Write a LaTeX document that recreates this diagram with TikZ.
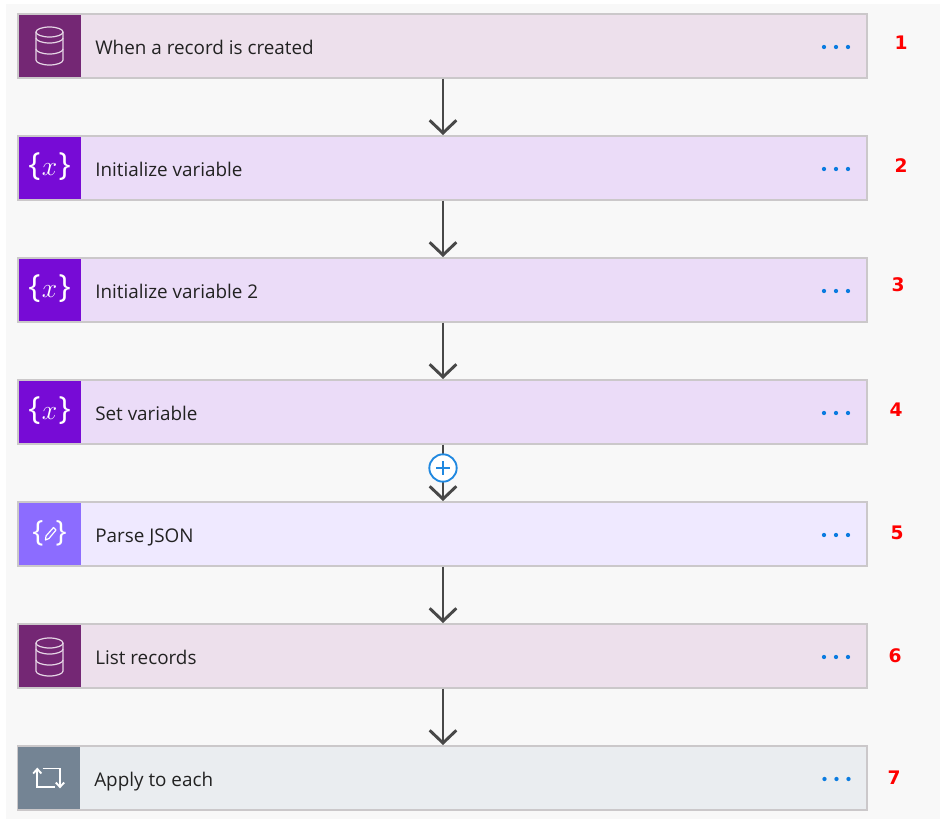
\documentclass[tikz,border=0pt]{standalone}
\usepackage{fontspec}
\setmainfont{Open Sans}
\newfontfamily\numfont[Scale=1]{DejaVu Sans}
\usetikzlibrary{arrows.meta}
\definecolor{bgc}{HTML}{F8F8F8}
\definecolor{edgec}{HTML}{CBC8CA}
\definecolor{dbdark}{HTML}{742774}
\definecolor{dblight}{HTML}{EDE0EC}
\definecolor{vardark}{HTML}{770BD6}
\definecolor{varlight}{HTML}{EBDCF8}
\definecolor{jsondark}{HTML}{8C6CFF}
\definecolor{jsonlight}{HTML}{EFE9FF}
\definecolor{loopdark}{HTML}{748494}
\definecolor{looplight}{HTML}{EAEDF0}
\definecolor{arrowc}{HTML}{484848}
\definecolor{dotc}{HTML}{0A7BE0}
\definecolor{plusc}{HTML}{2088E0}
\definecolor{inkc}{HTML}{222222}
\definecolor{dbline}{HTML}{E6D6E6}
\tikzset{
  card/.style={draw=edgec,line width=1.5pt,minimum width=636.75pt,minimum height=47.7pt,inner sep=0pt,anchor=north west},
  iconbox/.style={minimum width=46.7pt,minimum height=47pt,inner sep=0pt,anchor=north west},
  title/.style={inner sep=0pt,anchor=base west,text=inkc,font=\fontsize{14.15}{17}\selectfont},
  num/.style={inner sep=0pt,text=red,font=\numfont\bfseries\fontsize{14}{16}\selectfont},
  flow/.style={draw=arrowc,line width=2.2pt,-{Straight Barb[length=9.5pt,width=20pt,line width=2.2pt]}},
  glyph/.style={inner sep=0pt,text=white},
  dot/.style={circle,fill=dotc,minimum size=3.2pt,inner sep=0pt},
  dbstroke/.style={draw=dbline,line width=.9pt},
  loopstroke/.style={draw=white,line width=1.4pt},
  plusnode/.style={circle,draw=plusc,fill=white,line width=1.4pt,minimum size=20.5pt,inner sep=0pt}
}
\newcommand{\threedots}[3]{%
  \node[dot] (#1a) at (#2,#3) {};
  \node[dot] (#1b) at (#2+12,#3) {};
  \node[dot] (#1c) at (#2+24,#3) {};
}
\newcommand{\dbglyph}[1]{%
  \begin{scope}[shift={(49.5,#1)}]
    \draw[dbstroke] (0,-14) ellipse [x radius=13.5,y radius=5];
    \draw[dbstroke] (-13.5,-14) -- (-13.5,14) arc [start angle=180,end angle=0,x radius=13.5,y radius=5] -- (13.5,-14);
    \draw[dbstroke] (-13.5,-8) arc [start angle=180,end angle=0,x radius=13.5,y radius=5];
    \draw[dbstroke] (-13.5,3) arc [start angle=180,end angle=0,x radius=13.5,y radius=5];
  \end{scope}
}
\newcommand{\xglyph}[2]{%
  \node[glyph,font=\fontsize{24}{28}\selectfont] (#1) at (49.5,#2) {\{\hspace{1pt}{\fontsize{21.5}{24}\selectfont$x$}\hspace{1pt}\}};
}
\begin{document}
\begin{tikzpicture}[x=0.75pt,y=-0.75pt]
\useasboundingbox (0,0) rectangle (940,821);
\fill[white] (0,0) rectangle (940,821);
\fill[bgc] (6,4) rectangle (940,819);

% cards
\node[card,fill=dblight]   (c1) at (17,13)  {};
\node[card,fill=varlight]  (c2) at (17,135) {};
\node[card,fill=varlight]  (c3) at (17,257) {};
\node[card,fill=varlight]  (c4) at (17,379) {};
\node[card,fill=jsonlight] (c5) at (17,501) {};
\node[card,fill=dblight]   (c6) at (17,623) {};
\node[card,fill=looplight] (c7) at (17,745) {};

% icon boxes
\node[iconbox,fill=dbdark]   (i1) at (18.7,14.5)  {};
\node[iconbox,fill=vardark]  (i2) at (18.7,136.5) {};
\node[iconbox,fill=vardark]  (i3) at (18.7,258.5) {};
\node[iconbox,fill=vardark]  (i4) at (18.7,380.5) {};
\node[iconbox,fill=jsondark] (i5) at (18.7,502.5) {};
\node[iconbox,fill=dbdark]   (i6) at (18.7,624.5) {};
\node[iconbox,fill=loopdark] (i7) at (17.7,746.5) {};

% glyphs
\dbglyph{46}
\xglyph{g2}{167}
\xglyph{g3}{289}
\xglyph{g4}{411}
\node[glyph,font=\fontsize{22}{26}\selectfont] (g5) at (49.5,533) {\{\hspace{9pt}\}};
\begin{scope}[shift={(50.5,534)}]
  \draw[white,line width=.9pt,line join=round] (-5,6) -- (-4.5,2) -- (3,-6.5) -- (5.5,-4) -- (-1.5,4.5) -- cycle;
\end{scope}
\dbglyph{657}
\draw[loopstroke] (37.3,770) -- (37.3,786.7) -- (55,786.7);
\draw[loopstroke,line join=miter] (33.2,773.5) -- (37.3,769) -- (41.4,773.5);
\draw[loopstroke] (42.7,768.5) -- (60,768.5) -- (60,786);
\draw[loopstroke,line join=miter] (55.8,782.5) -- (60,787) -- (64.2,782.5);

% titles
\node[title] (t1) at (95,54)  {When a record is created};
\node[title] (t2) at (95,176) {Initialize variable};
\node[title] (t3) at (95,298) {Initialize variable 2};
\node[title] (t4) at (95,420) {Set variable};
\node[title] (t5) at (95,542) {Parse JSON};
\node[title] (t6) at (95,664) {List records};
\node[title] (t7) at (94,786) {Apply to each};

% dots
\threedots{d1}{824}{47}
\threedots{d2}{824}{169}
\threedots{d3}{824}{291}
\threedots{d4}{824}{413}
\threedots{d5}{824}{535}
\threedots{d6}{824}{657}
\threedots{d7}{824.5}{779}

% numbers
\node[num] (n1) at (901,43)  {1};
\node[num] (n2) at (901,166) {2};
\node[num] (n3) at (898,285) {3};
\node[num] (n4) at (896,410) {4};
\node[num] (n5) at (897,533) {5};
\node[num] (n6) at (895,656) {6};
\node[num] (n7) at (894,777.5) {7};

% connectors
\coordinate (ax) at (443,0);
\foreach \u/\v in {c1/c2,c2/c3,c3/c4,c4/c5,c5/c6,c6/c7}{
  \draw[flow] (\u.south -| ax) -- (\v.north -| ax);
}

% plus
\node[plusnode] (plus) at (443,468) {};
\draw[plusc,line width=1.2pt] ([xshift=-5pt]plus.center) -- ([xshift=5pt]plus.center);
\draw[plusc,line width=1.2pt] ([yshift=-5pt]plus.center) -- ([yshift=5pt]plus.center);
\end{tikzpicture}
\end{document}
